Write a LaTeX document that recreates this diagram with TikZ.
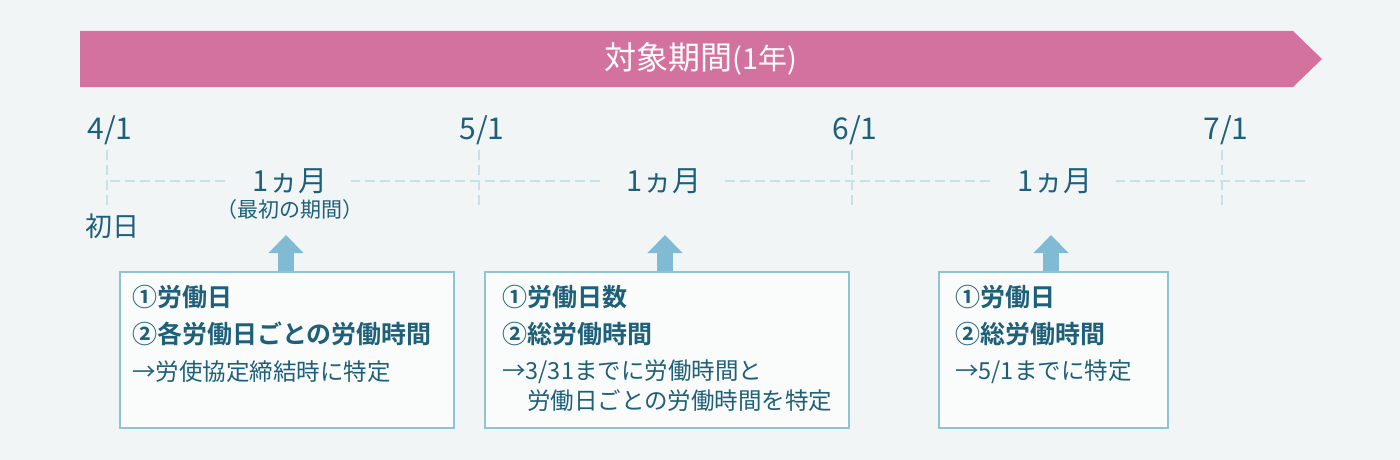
\documentclass[tikz,border=0pt]{standalone}
\usepackage{fontspec}
\setmainfont{Noto Sans CJK JP}[BoldFont={Noto Sans CJK JP Bold}]
\newfontfamily\jp{Noto Sans CJK JP}[BoldFont={Noto Sans CJK JP Bold}]
\usetikzlibrary{arrows.meta,calc}
\definecolor{bgc}{HTML}{F2F5F6}
\definecolor{pinkc}{HTML}{D4729F}
\definecolor{tealc}{HTML}{1E6079}
\definecolor{dashc}{HTML}{C8E0EA}
\definecolor{arrc}{HTML}{80BBD3}
\definecolor{boxb}{HTML}{8FC3D6}
\definecolor{boxf}{HTML}{FAFBFB}
\tikzset{
  datelbl/.style={text=tealc,font=\jp\fontsize{30}{34}\selectfont,inner sep=0pt},
  monthlbl/.style={text=tealc,font=\jp\fontsize{29}{33}\selectfont,fill=bgc,inner xsep=24pt,inner ysep=2pt},
  sublbl/.style={text=tealc,font=\jp\fontsize{21}{24}\selectfont,inner sep=1pt},
  dashline/.style={draw=dashc,line width=2.5pt,dash pattern=on 10pt off 5pt},
  infobox/.style={draw=boxb,line width=2pt,fill=boxf,anchor=north west,inner sep=0pt},
  boldln/.style={text=tealc,font=\jp\bfseries\fontsize{25}{29}\selectfont,anchor=west,inner sep=0pt},
  normln/.style={text=tealc,font=\jp\fontsize{23.5}{27}\selectfont,anchor=west,inner sep=0pt},
  uparrow/.style={draw=arrc,line width=16pt,-{Triangle[width=34pt,length=18pt,fill=arrc]}},
}
\begin{document}
\begin{tikzpicture}[x=1pt,y=-1pt]
\fill[bgc] (0,0) rectangle (1400,460);
\useasboundingbox (0,0) rectangle (1400,460);
% banner
\fill[pinkc] (80,31) -- (1293,31) -- (1322,59) -- (1293,87) -- (80,87) -- cycle;
\node[text=white,font=\jp\fontsize{32}{36}\selectfont,inner sep=0pt] (title) at (701,59) {対象期間{\fontsize{29}{33}\selectfont(1年)}};
% vertical dashed ticks
\foreach \n/\x in {t1/107,t2/479,t3/852,t4/1222}{
  \coordinate (\n top) at (\x,150);
  \coordinate (\n bot) at (\x,207);
  \draw[dashline] (\n top) -- (\n bot);
}
% horizontal dashed line
\coordinate (hl) at (110,181);
\coordinate (hr) at (1305,181);
\draw[dashline] (hl) -- (hr);
% dates
\node[datelbl] (d1) at (110,130) {4/1};
\node[datelbl] (d2) at (482,130) {5/1};
\node[datelbl] (d3) at (855,130) {6/1};
\node[datelbl] (d4) at (1226,130) {7/1};
% month labels
\node[monthlbl] (m1) at (290,181) {1ヵ月};
\node[monthlbl] (m2) at (664,181) {1ヵ月};
\node[monthlbl] (m3) at (1055,181) {1ヵ月};
\node[sublbl] (s1) at (290,210) {（最初の期間）};
\node[text=tealc,font=\jp\fontsize{27}{30}\selectfont,inner sep=0pt] (first) at (112,226) {初日};
% boxes
\node[infobox,minimum width=334pt,minimum height=156pt] (b1) at (119,271) {};
\node[infobox,minimum width=364pt,minimum height=156pt] (b2) at (484,271) {};
\node[infobox,minimum width=229pt,minimum height=156pt] (b3) at (938,271) {};
% arrows
\coordinate (a1) at (286,235);
\coordinate (a2) at (665,235);
\coordinate (a3) at (1051,235);
\draw[uparrow] (a1 |- b1.north) -- (a1);
\draw[uparrow] (a2 |- b2.north) -- (a2);
\draw[uparrow] (a3 |- b3.north) -- (a3);
% box 1 text
\node[boldln] (b1l1) at (132,297) {①労働日};
\node[boldln] (b1l2) at (132,334) {②各労働日ごとの労働時間};
\node[normln] (b1l3) at (132,372) {→労使協定締結時に特定};
% box 2 text
\node[boldln] (b2l1) at (502,297) {①労働日数};
\node[boldln] (b2l2) at (502,334) {②総労働時間};
\node[normln] (b2l3) at (502,372) {→3/31までに労働時間と};
\node[normln] (b2l4) at (527,401) {労働日ごとの労働時間を特定};
% box 3 text
\node[boldln] (b3l1) at (955,297) {①労働日};
\node[boldln] (b3l2) at (955,334) {②総労働時間};
\node[normln] (b3l3) at (955,372) {→5/1までに特定};
\end{tikzpicture}
\end{document}
